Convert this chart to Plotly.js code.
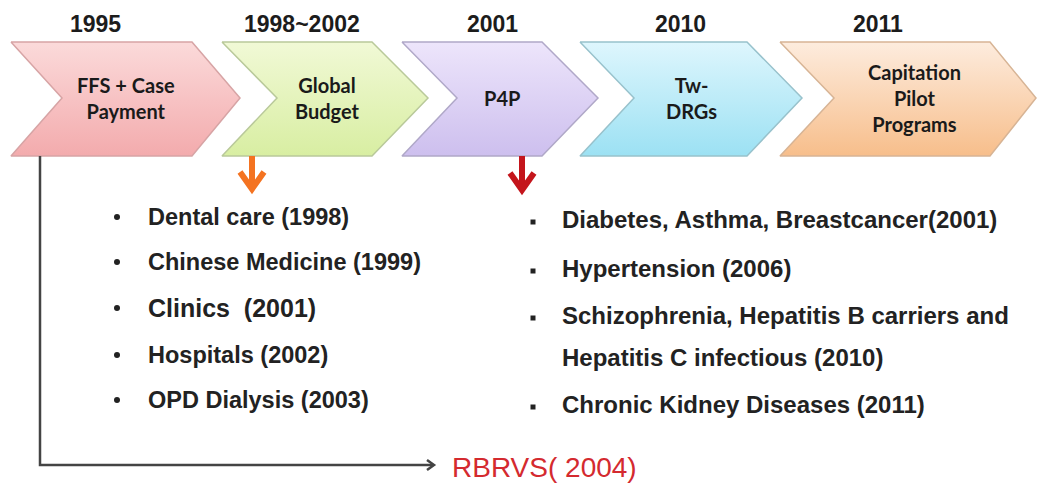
<!DOCTYPE html>
<html>
<head>
<meta charset="utf-8">
<script src="https://cdn.plot.ly/plotly-3.0.1.min.js"></script>
<style>html,body{margin:0;padding:0;background:#fff;}</style>
</head>
<body>
<div id="chart" style="width:1037px;height:484px;"></div>
<script>
// ---------- data ----------
const years = ['1995', '1998~2002', '2001', '2010', '2011'];
const stageLabels = [
  ['FFS + Case', 'Payment'],
  ['Global', 'Budget'],
  ['P4P'],
  ['Tw-', 'DRGs'],
  ['Capitation', 'Pilot', 'Programs']
];
const globalBudgetItems = [
  'Dental care (1998)',
  'Chinese Medicine (1999)',
  'Clinics  (2001)',
  'Hospitals (2002)',
  'OPD Dialysis (2003)'
];
const p4pItems = [
  ['Diabetes, Asthma, Breastcancer(2001)'],
  ['Hypertension (2006)'],
  ['Schizophrenia, Hepatitis B carriers and', 'Hepatitis C infectious (2010)'],
  ['Chronic Kidney Diseases (2011)']
];
const rbrvsLabel = 'RBRVS( 2004)';

// ---------- layout / style constants ----------
const W = 1037, H = 484;
const chevLeft  = [11, 222, 402, 580, 780];
const chevNotch = [62, 277, 457, 634, 834];
const chevTopR  = [192, 372, 542, 747, 990];
const chevTip   = [240, 428, 598, 802, 1036];
const chevTop = 42, chevMid = 98, chevBot = 156;
const chevColors = [
  ['#fbdada', '#f3abad', '#d7a4a5'],
  ['#f1f9d6', '#d8eea2', '#b9c99a'],
  ['#ede5fb', '#cdbfee', '#b0a8c8'],
  ['#def6fd', '#9ce1f3', '#98c2cc'],
  ['#fdecde', '#f7be8b', '#d7b495']
];
const yearX = [95, 302, 492, 680, 878];
const labelX = [126, 327, 502, 691, 914];

const traces = [];
const annotations = [];
const shapes = [];

// chevrons
for (let i = 0; i < years.length; i++) {
  const L = chevLeft[i], N = chevNotch[i], T = chevTopR[i], P = chevTip[i];
  traces.push({
    type: 'scatter', mode: 'lines', hoverinfo: 'skip', showlegend: false,
    x: [L, T, P, T, L, N, L],
    y: [chevTop, chevTop, chevMid, chevBot, chevBot, chevMid, chevTop],
    fill: 'toself',
    fillgradient: {type: 'vertical', colorscale: [[0, chevColors[i][1]], [1, chevColors[i][0]]]},
    line: {color: chevColors[i][2], width: 1.5}
  });
  annotations.push({
    x: yearX[i], y: 24, xref: 'x', yref: 'y', text: years[i], showarrow: false,
    xanchor: 'center', yanchor: 'middle',
    font: {family: 'Liberation Sans, Arial, sans-serif', size: 23, color: '#1c1c1c', weight: 'bold'}
  });
  annotations.push({
    x: labelX[i], y: chevMid, xref: 'x', yref: 'y',
    text: stageLabels[i].map(t => '<b>' + t + '</b>').join('<br>'),
    showarrow: false, xanchor: 'center', yanchor: 'middle', align: 'center', borderpad: 0,
    font: {family: 'Lato, Open Sans, sans-serif', size: 20, color: '#1a1a1a'}
  });
}

// down arrows
function downArrow(x, y0, y1, color) {
  shapes.push({type: 'line', x0: x, x1: x, y0: y0, y1: y1 - 3, xref: 'x', yref: 'y',
               line: {color: color, width: 6}});
  shapes.push({type: 'path', xref: 'x', yref: 'y',
               path: `M ${x - 12} ${y1 - 17} L ${x} ${y1} L ${x + 12} ${y1 - 17}`,
               line: {color: color, width: 6}});
}
downArrow(252, 156, 189, '#f47321');
downArrow(522, 156, 190, '#c4151c');

// left list (Global Budget)
const leftY = [217, 262, 308, 355, 400];
globalBudgetItems.forEach((t, k) => {
  annotations.push({
    x: 146, y: leftY[k], xref: 'x', yref: 'y', text: '<b>' + t + '</b>', showarrow: false,
    xanchor: 'left', yanchor: 'middle',
    font: {family: 'Liberation Sans, Arial, sans-serif', size: k === 2 ? 25 : 23.5, color: '#222'}
  });
});
traces.push({
  type: 'scatter', mode: 'markers', hoverinfo: 'skip', showlegend: false,
  x: globalBudgetItems.map(() => 117), y: leftY,
  marker: {symbol: 'circle', size: 6, color: '#222'}
});

// right list (P4P)
const rightY = [219, 268, 315, 357, 404];
let r = 0;
const bulletY = [];
p4pItems.forEach((item) => {
  bulletY.push(rightY[r] + 3);
  item.forEach((t) => {
    annotations.push({
      x: 560, y: rightY[r], xref: 'x', yref: 'y', text: '<b>' + t + '</b>', showarrow: false,
      xanchor: 'left', yanchor: 'middle',
      font: {family: 'Liberation Sans, Arial, sans-serif', size: 24, color: '#222'}
    });
    r++;
  });
});
traces.push({
  type: 'scatter', mode: 'markers', hoverinfo: 'skip', showlegend: false,
  x: bulletY.map(() => 533), y: bulletY,
  marker: {symbol: 'square', size: 5, color: '#222'}
});

// RBRVS connector
shapes.push({type: 'path', xref: 'x', yref: 'y', path: 'M 40 156 L 40 465 L 433 465',
             line: {color: '#444', width: 2.5}});
shapes.push({type: 'path', xref: 'x', yref: 'y', path: 'M 427 460 L 434 465 L 427 470',
             line: {color: '#444', width: 2.5}});
annotations.push({
  x: 450, y: 467, xref: 'x', yref: 'y', text: rbrvsLabel, showarrow: false,
  xanchor: 'left', yanchor: 'middle',
  font: {family: 'Liberation Sans, Arial, sans-serif', size: 28, color: '#d42a2f'}
});

const layout = {
  width: W, height: H,
  margin: {l: 0, r: 0, t: 0, b: 0},
  paper_bgcolor: '#ffffff', plot_bgcolor: '#ffffff',
  xaxis: {range: [0, W], visible: false, fixedrange: true},
  yaxis: {range: [H, 0], visible: false, fixedrange: true},
  shapes: shapes,
  annotations: annotations,
  showlegend: false
};
Plotly.newPlot('chart', traces, layout, {staticPlot: true, displayModeBar: false});
</script>
</body>
</html>
